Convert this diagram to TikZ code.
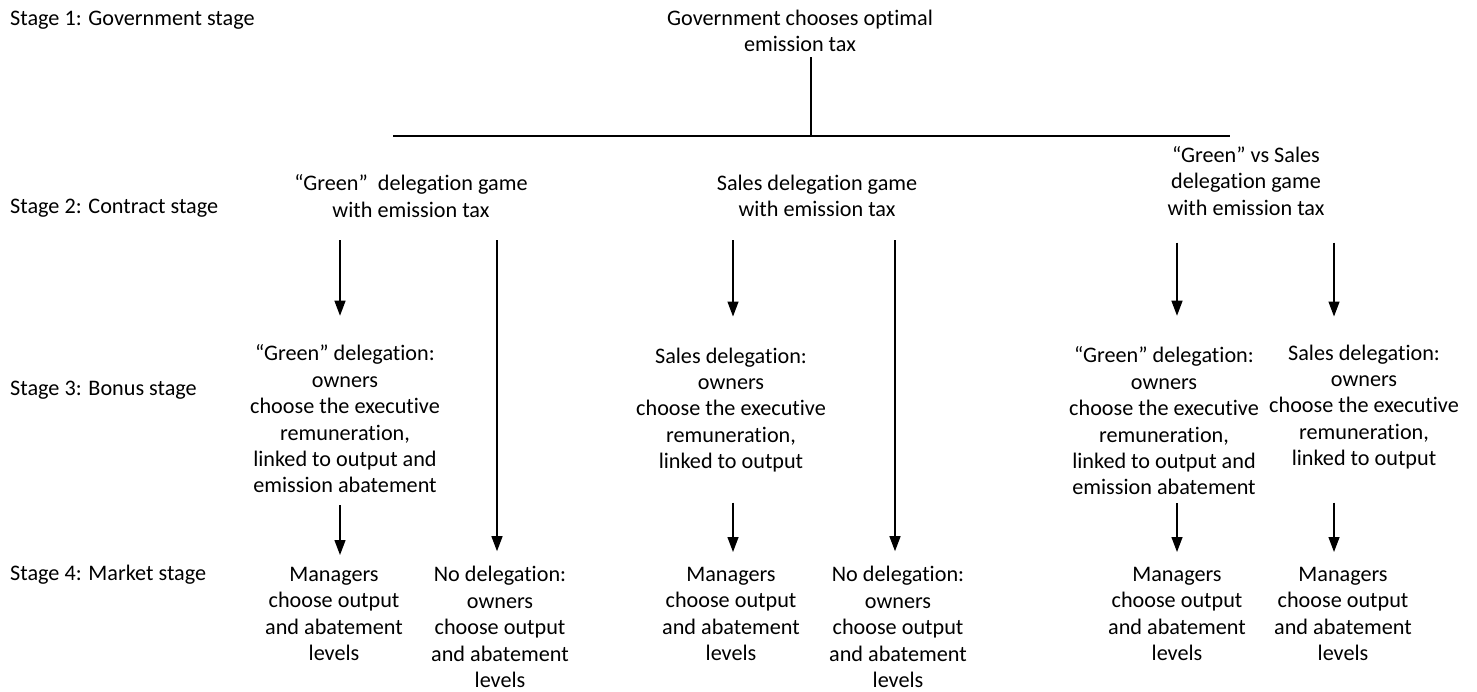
\documentclass[tikz,border=0pt]{standalone}
\usepackage{fontspec}
\setmainfont{Carlito}[Ligatures={TeX,NoCommon}]
\usetikzlibrary{arrows.meta}

\begin{document}
\begin{tikzpicture}[x=1pt,y=-1pt,
        txt/.style={align=center, inner sep=0pt, font=\fontsize{22.2}{26.4}\selectfont},
        stage/.style={txt, anchor=west},
        arr/.style={line width=1.3pt, -{Triangle[length=15pt,width=11pt]}}]
        \useasboundingbox (0,0) rectangle (1477,691);

        % stages
        \node[stage] (s1) at (10,20) {Stage 1: Government stage};
        \node[stage] (s2) at (10,208) {Stage 2: Contract stage};
        \node[stage] (s3) at (10,390) {Stage 3: Bonus stage};
        \node[stage] (s4) at (10,575) {Stage 4: Market stage};

        % government
        \node[txt] (gov) at (800,31) {Government chooses optimal\\emission tax};
        \coordinate (split) at (811,136);
        \coordinate (hl) at (393,136);
        \coordinate (hr) at (1230,136);
        \draw[line width=1.3pt] ([yshift=-5pt]split |- gov.south) -- (split);
        \draw[line width=1.3pt] (hl) -- (hr);

        % games
        \node[txt] (gg) at (411,196) {“Green”\hspace{5pt} delegation game\\with emission tax};
        \node[txt] (sg) at (817,196) {Sales delegation game\\with emission tax};
        \node[txt] (vg) at (1246,181) {“Green” vs Sales\\delegation game\\with emission tax};

        % contracts
        \node[txt] (gd) at (345,419) {“Green” delegation:\\owners\\choose the executive\\remuneration,\\linked to output and\\emission abatement};
        \node[txt] (sd) at (731,410) {Sales delegation:\\owners\\choose the executive\\remuneration,\\linked to output};
        \node[txt] (gd2) at (1164,421) {“Green” delegation:\\owners\\choose the executive\\remuneration,\\linked to output and\\emission abatement};
        \node[txt] (sd2) at (1364,407) {Sales delegation:\\owners\\choose the executive\\remuneration,\\linked to output};

        % market
        \node[txt] (m1) at (334,614) {Managers\\choose output\\and abatement\\levels};
        \node[txt] (nd1) at (500,627) {No delegation:\\owners\\choose output\\and abatement\\levels};
        \node[txt] (m2) at (731,614) {Managers\\choose output\\and abatement\\levels};
        \node[txt] (nd2) at (898,627) {No delegation:\\owners\\choose output\\and abatement\\levels};
        \node[txt] (m3) at (1177,614) {Managers\\choose output\\and abatement\\levels};
        \node[txt] (m4) at (1343,614) {Managers\\choose output\\and abatement\\levels};

        % columns of the arrows
        \coordinate (c1) at (340,0);
        \coordinate (c2) at (497,0);
        \coordinate (c3) at (733,0);
        \coordinate (c4) at (895,0);
        \coordinate (c5) at (1177,0);
        \coordinate (c6) at (1334,0);

        \draw[arr] ([yshift=-23pt]c1 |- gg.south) -- ([yshift=29pt]c1 |- gd.north);
        \draw[arr] ([yshift=-23pt]c2 |- gg.south) -- ([yshift=15pt]c2 |- nd1.north);
        \draw[arr] ([yshift=-23pt]c3 |- sg.south) -- ([yshift=31pt]c3 |- sd.north);
        \draw[arr] ([yshift=-23pt]c4 |- sg.south) -- ([yshift=15pt]c4 |- nd2.north);
        \draw[arr] ([yshift=-27pt]c5 |- vg.south) -- ([yshift=31pt]c5 |- gd2.north);
        \draw[arr] ([yshift=-27pt]c6 |- vg.south) -- ([yshift=28pt]c6 |- sd2.north);

        \draw[arr] ([yshift=-12pt]c1 |- gd.south) -- ([yshift=12pt]c1 |- m1.north);
        \draw[arr] ([yshift=-30pt]c3 |- sd.south) -- ([yshift=15pt]c3 |- m2.north);
        \draw[arr] ([yshift=-8pt]c5 |- gd2.south) -- ([yshift=15pt]c5 |- m3.north);
        \draw[arr] ([yshift=-33pt]c6 |- sd2.south) -- ([yshift=15pt]c6 |- m4.north);

    \end{tikzpicture}
\end{document}
